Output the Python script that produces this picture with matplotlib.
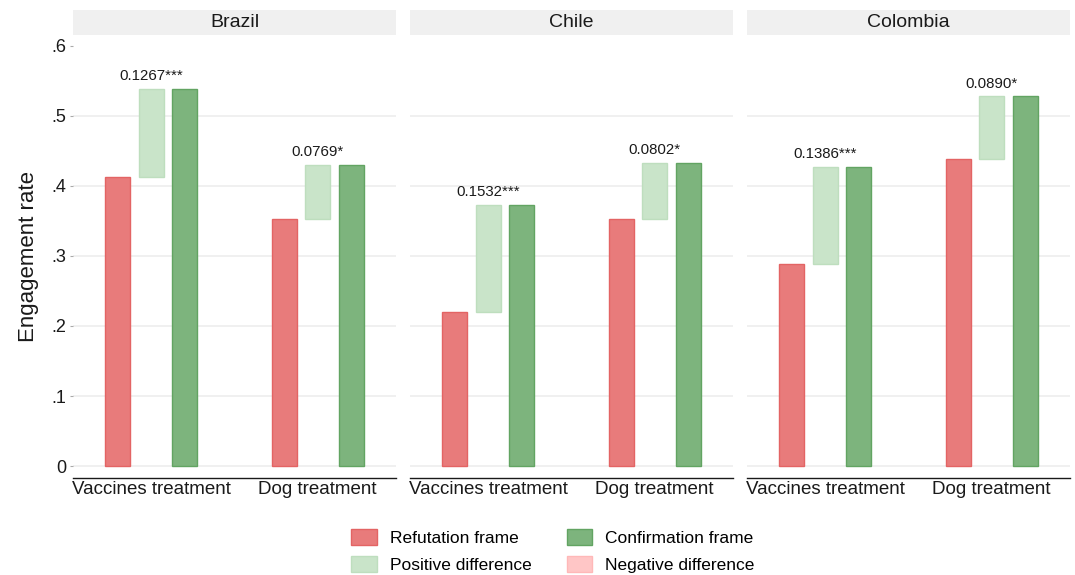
import numpy as np
import matplotlib
matplotlib.use('Agg')
import matplotlib.pyplot as plt
from matplotlib.patches import Patch

plt.rcParams['font.family'] = ['Liberation Sans', 'DejaVu Sans']

countries = ['Brazil', 'Chile', 'Colombia']
treatments = ['Vaccines treatment', 'Dog treatment']

# engagement rates per country: [vaccines, dog]
refutation = [[0.412, 0.353], [0.2198, 0.353], [0.2884, 0.439]]
confirmation = [[0.5387, 0.4299], [0.373, 0.4332], [0.427, 0.528]]
diff_labels = [['0.1267***', '0.0769*'], ['0.1532***', '0.0802*'], ['0.1386***', '0.0890*']]

yticks = [0, 0.1, 0.2, 0.3, 0.4, 0.5, 0.6]
ytick_labels = ['0', '.1', '.2', '.3', '.4', '.5', '.6']

red = '#E87B7B'
red_edge = '#E36464'
green = '#7DB47D'
green_edge = '#62A462'
lgreen = '#C9E4C9'
lgreen_edge = '#BEDEBE'
lred = '#FFC6C6'
lred_edge = '#FFB8B8'

fig = plt.figure(figsize=[10.75, 5.75], dpi=100)

lefts = [73, 410, 747]
pw = 323
W, H = 1075., 575.
ax_top, ax_bot = 36, 478
strip_top, strip_bot = 10, 35

width = 0.15
off = 0.2
x = np.arange(len(treatments))

for i, c in enumerate(countries):
    ax = fig.add_axes([lefts[i]/W, 1-ax_bot/H, pw/W, (ax_bot-ax_top)/H])
    sax = fig.add_axes([lefts[i]/W, 1-strip_bot/H, pw/W, (strip_bot-strip_top)/H])
    sax.set_facecolor('#F0F0F0')
    for s in sax.spines.values():
        s.set_visible(False)
    sax.set_xticks([]); sax.set_yticks([])
    sax.text(0.5, 0.5, c, ha='center', va='center', fontsize=14, color='#1a1a1a', transform=sax.transAxes)

    ref = np.array(refutation[i])
    conf = np.array(confirmation[i])
    d = conf - ref

    for yv in yticks[:-1]:
        ax.axhline(yv, color='#EEEEEE', lw=1.2, zorder=0)

    ax.bar(x-off, ref, width, color=red, edgecolor=red_edge, lw=1, zorder=2)
    pos = d >= 0
    ax.bar(x[pos], d[pos], width, bottom=ref[pos], color=lgreen, edgecolor=lgreen_edge, lw=1, zorder=2)
    ax.bar(x[~pos], -d[~pos], width, bottom=conf[~pos], color=lred, edgecolor=lred_edge, lw=1, zorder=2)
    ax.bar(x+off, conf, width, color=green, edgecolor=green_edge, lw=1, zorder=2)

    for j in range(len(treatments)):
        ax.text(x[j], max(ref[j], conf[j]) + 0.008, diff_labels[i][j], ha='center', va='bottom',
                fontsize=10.8, color='#1a1a1a')

    ax.set_xlim(-0.47, 1.47)
    ax.set_ylim(-0.017, 0.614)
    ax.set_xticks(x)
    ax.set_xticklabels(treatments, fontsize=13.5, color='#1a1a1a')
    ax.tick_params(axis='x', length=0, pad=2)
    for s in ['top', 'right', 'left']:
        ax.spines[s].set_visible(False)
    ax.spines['bottom'].set_color('#1a1a1a')
    ax.spines['bottom'].set_linewidth(1.0)
    ax.set_facecolor('none')
    if i == 0:
        ax.set_yticks(yticks)
        ax.set_yticklabels(ytick_labels, fontsize=13, color='#1a1a1a')
        ax.tick_params(axis='y', length=2, color='#AAAAAA', pad=3)
        ax.set_ylabel('Engagement rate', fontsize=16, color='#1a1a1a', labelpad=9)
    else:
        ax.set_yticks([])

handles = [Patch(facecolor=red, edgecolor=red_edge, label='Refutation frame'),
           Patch(facecolor=lgreen, edgecolor=lgreen_edge, label='Positive difference'),
           Patch(facecolor=green, edgecolor=green_edge, label='Confirmation frame'),
           Patch(facecolor=lred, edgecolor=lred_edge, label='Negative difference')]
fig.legend(handles=handles, ncol=2, loc='center', bbox_to_anchor=(553/W, 1-551/H), frameon=False,
           fontsize=12.5, handlelength=1.45, handleheight=1.0, columnspacing=2.05, labelspacing=0.6,
           handletextpad=0.75)

plt.savefig('out.png', dpi=100)
